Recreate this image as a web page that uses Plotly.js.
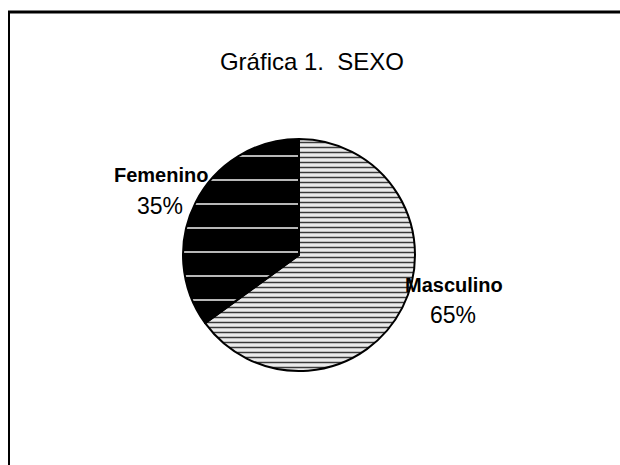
<!DOCTYPE html>
<html>
<head>
<meta charset="utf-8">
<script src="https://cdn.plot.ly/plotly-3.0.1.min.js"></script>
<style>html,body{margin:0;padding:0;background:#fff;}#chart{width:620px;height:465px;}</style>
</head>
<body>
<div id="chart"></div>
<script>
const titleText = "Gráfica 1.  SEXO";
const categories = ["Masculino", "Femenino"];
const percentages = [65, 35];

const font = "Arial, 'Liberation Sans', sans-serif";
const W = 620, H = 465;
const cx = 299, cy = 255, r = 116;

const labelPos = [
  {x: 454, y: 285, px: 453, py: 315},
  {x: 161, y: 175, px: 160, py: 206}
];

const annotations = [];
categories.forEach((c, i) => {
  annotations.push({
    xref: 'paper', yref: 'paper', x: labelPos[i].x / W, y: 1 - labelPos[i].y / H,
    xanchor: 'center', yanchor: 'middle', showarrow: false,
    text: '<b>' + c + '</b>',
    font: {family: font, size: 20, color: '#000'}
  });
  annotations.push({
    xref: 'paper', yref: 'paper', x: labelPos[i].px / W, y: 1 - labelPos[i].py / H,
    xanchor: 'center', yanchor: 'middle', showarrow: false,
    text: percentages[i] + '%',
    font: {family: font, size: 23, color: '#000'}
  });
});

const trace = {
  type: 'pie',
  labels: categories,
  values: percentages,
  sort: false,
  direction: 'clockwise',
  rotation: 0,
  textinfo: 'none',
  hoverinfo: 'label+percent',
  domain: {x: [(cx - r) / W, (cx + r) / W], y: [(H - cy - r) / H, (H - cy + r) / H]},
  marker: {
    colors: ['#e6e6e6', '#000000'],
    line: {color: '#000', width: 2},
    pattern: {
      shape: ['-', '-'],
      fgcolor: ['#3a3a3a', '#ffffff'],
      bgcolor: ['#ececec', '#000000'],
      size: [5, 24],
      solidity: [0.3, 0.06],
      fillmode: 'replace'
    }
  }
};

const layout = {
  width: W, height: H,
  margin: {l: 0, r: 0, t: 0, b: 0},
  paper_bgcolor: '#fff',
  showlegend: false,
  title: {
    text: titleText,
    x: 312 / W, xanchor: 'center', xref: 'paper',
    y: 1 - 62 / H, yanchor: 'middle', yref: 'paper',
    font: {family: font, size: 24, color: '#000'}
  },
  annotations: annotations,
  shapes: [
    {type: 'line', xref: 'paper', yref: 'paper', x0: 8 / W, x1: 1, y0: 1 - 12 / H, y1: 1 - 12 / H, line: {color: '#000', width: 3}},
    {type: 'line', xref: 'paper', yref: 'paper', x0: 9 / W, x1: 9 / W, y0: 1 - 11 / H, y1: 0, line: {color: '#000', width: 2}}
  ]
};

Plotly.newPlot('chart', [trace], layout, {displayModeBar: false, staticPlot: true});
</script>
</body>
</html>
